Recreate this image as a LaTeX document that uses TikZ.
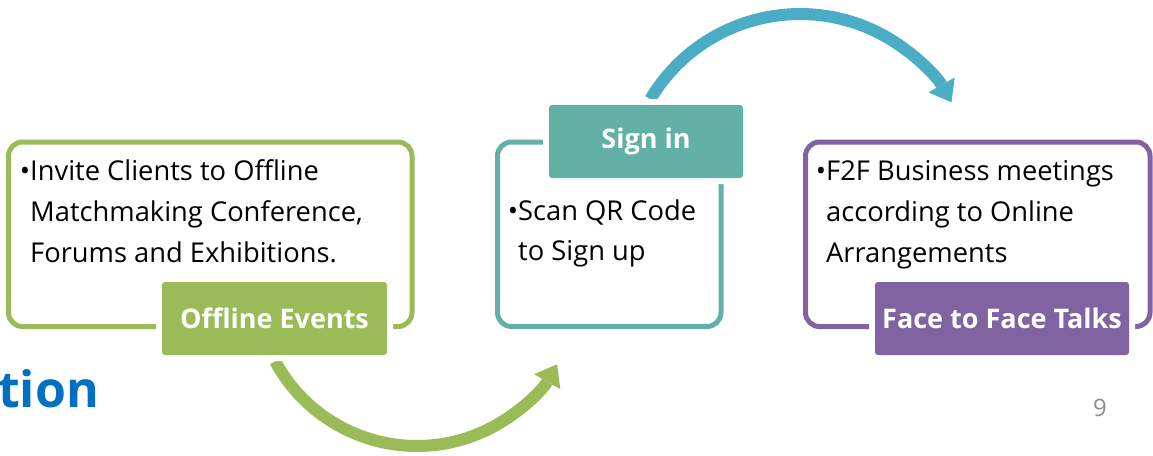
\documentclass[tikz,border=0pt]{standalone}
\usepackage{fontspec}
\setmainfont{Open Sans}
\usetikzlibrary{arrows.meta}
\definecolor{cgreen}{HTML}{9BBB59}
\definecolor{cteal}{HTML}{62B0A6}
\definecolor{cpurple}{HTML}{8064A2}
\definecolor{cblue}{HTML}{4BACC6}
\definecolor{ctitle}{HTML}{0070C0}
\definecolor{cgray}{HTML}{8C8C8C}
\begin{document}
\begin{tikzpicture}[x=1pt,y=1pt,
  frame/.style={draw=#1, line width=5pt, rounded corners=14pt, inner sep=0pt},
  tag/.style={fill=#1, preaction={draw=white, line width=12pt}, rounded corners=3pt,
    inner sep=0pt, text=white, font=\fontsize{27}{30}\selectfont\bfseries},
  body/.style={anchor=base west, inner sep=0pt, font=\fontsize{27.3}{41}\selectfont},
  flow/.style={draw=#1, line width=12pt, -{Triangle[length=20pt,width=30pt,line width=0pt]}},
]
\fill[white] (0,0) rectangle (1153,-455);
\useasboundingbox (0,0) rectangle (1153,-455);

% arrows
\coordinate (g0) at (275.2,-361.3);
\coordinate (b0) at (650.4,-99.2);
\draw[flow=cgreen] (g0) arc[start angle=208.3, end angle=330.5, radius=161];
\draw[flow=cblue] (b0) arc[start angle=149.3, end angle=29.5, radius=174];

% frames
\node[frame=cgreen, minimum width=403.5, minimum height=184.5] (f1) at (210.25,-234.25) {};
\node[frame=cteal, minimum width=223.5, minimum height=184.5] (f2) at (609.25,-234.25) {};
\node[frame=cpurple, minimum width=344.5, minimum height=184.5] (f3) at (977.75,-234.25) {};

% tags
\node[tag=cgreen, minimum width=225, minimum height=73] (t1) at (274.5,-318.5) {Offline Events};
\node[tag=cteal, minimum width=194, minimum height=73] (t2) at (646,-141.5) {Sign in};
\node[tag=cpurple, minimum width=254, minimum height=73] (t3) at (1002,-318.5) {Face to Face Talks};

% body texts
\node[body] (a1) at (30,-180) {\llap{•}Invite Clients to Offline};
\node[body] (a2) at (30,-221) {Matchmaking Conference,};
\node[body] (a3) at (30,-262) {Forums and Exhibitions.};
\node[body] (b1) at (518,-220) {\llap{•}Scan QR Code};
\node[body] (b2) at (518,-260) {to Sign up};
\node[body] (c1) at (826,-180) {\llap{•}F2F Business meetings};
\node[body] (c2) at (826,-221) {according to Online};
\node[body] (c3) at (826,-262) {Arrangements};

% title fragment and page number
\node[anchor=base west, inner sep=0pt, text=ctitle, font=\fontsize{50}{60}\selectfont\bfseries] (title) at (-2,-407) {tion};
\node[inner sep=0pt, text=cgray, font=\fontsize{24}{28}\selectfont] (pg) at (1100,-408) {9};
\end{tikzpicture}
\end{document}
